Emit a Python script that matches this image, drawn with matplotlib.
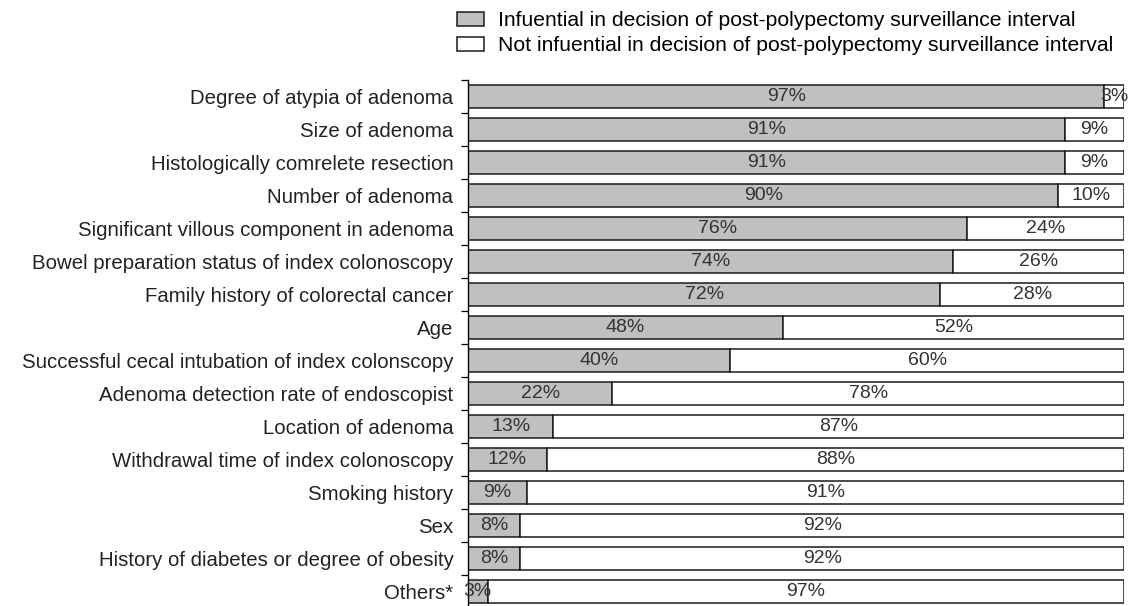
import numpy as np
import matplotlib
matplotlib.use("Agg")
import matplotlib.pyplot as plt

plt.rcParams['font.family'] = ['Liberation Sans', 'DejaVu Sans']

# factors, top to bottom
factors = ["Degree of atypia of adenoma",
           "Size of adenoma",
           "Histologically comrelete resection",
           "Number of adenoma",
           "Significant villous component in adenoma",
           "Bowel preparation status of index colonoscopy",
           "Family history of colorectal cancer",
           "Age",
           "Successful cecal intubation of index colonscopy",
           "Adenoma detection rate of endoscopist",
           "Location of adenoma",
           "Withdrawal time of index colonoscopy",
           "Smoking history",
           "Sex",
           "History of diabetes or degree of obesity",
           "Others*"]

infl = [97, 91, 91, 90, 76, 74, 72, 48, 40, 22, 13, 12, 9, 8, 8, 3]
not_infl = [3, 9, 9, 10, 24, 26, 28, 52, 60, 78, 87, 88, 91, 92, 92, 97]

legend_labels = ["Infuential in decision of post-polypectomy surveillance interval",
                 "Not infuential in decision of post-polypectomy surveillance interval"]

W, H = 1131, 606
fig = plt.figure(figsize=(W / 100, H / 100), dpi=100)
ax = fig.add_axes([468 / W, -2 / H, 656 / W, 528 / H])

y = np.arange(len(factors))
bh = 0.667
b1 = ax.barh(y, infl, height=bh, color='#c0c0c0', edgecolor='#1a1a1a', linewidth=1.1,
             label=legend_labels[0])
b2 = ax.barh(y, not_infl, left=infl, height=bh, color='white', edgecolor='#1a1a1a',
             linewidth=1.1, label=legend_labels[1])

for bars, vals in ((b1, infl), (b2, not_infl)):
    ax.bar_label(bars, labels=[f"{v}%" for v in vals], label_type='center',
                 fontsize=14, color='#333333')

ax.set_xlim(0, 100)
ax.set_ylim(len(factors) - 0.5, -0.5)
ax.set_yticks(y)
ax.set_yticklabels(factors, fontsize=14.7, color='#222222')
ax.tick_params(axis='y', which='major', length=0, pad=10.5)
ax.set_yticks(np.arange(-0.5, len(factors), 1.0), minor=True)
ax.tick_params(axis='y', which='minor', length=5, width=0.9, direction='out')
ax.set_xticks([])
for s in ('top', 'right', 'bottom'):
    ax.spines[s].set_visible(False)
ax.spines['left'].set_linewidth(1.0)

fig.legend(handles=[b1, b2], loc='upper left', bbox_to_anchor=(457 / W, 1 - 11 / H),
           frameon=False, fontsize=15.2, handlelength=1.3, handleheight=0.65,
           handletextpad=0.65, labelspacing=0.3, borderpad=0, borderaxespad=0)

fig.savefig("out.png", dpi=100)
